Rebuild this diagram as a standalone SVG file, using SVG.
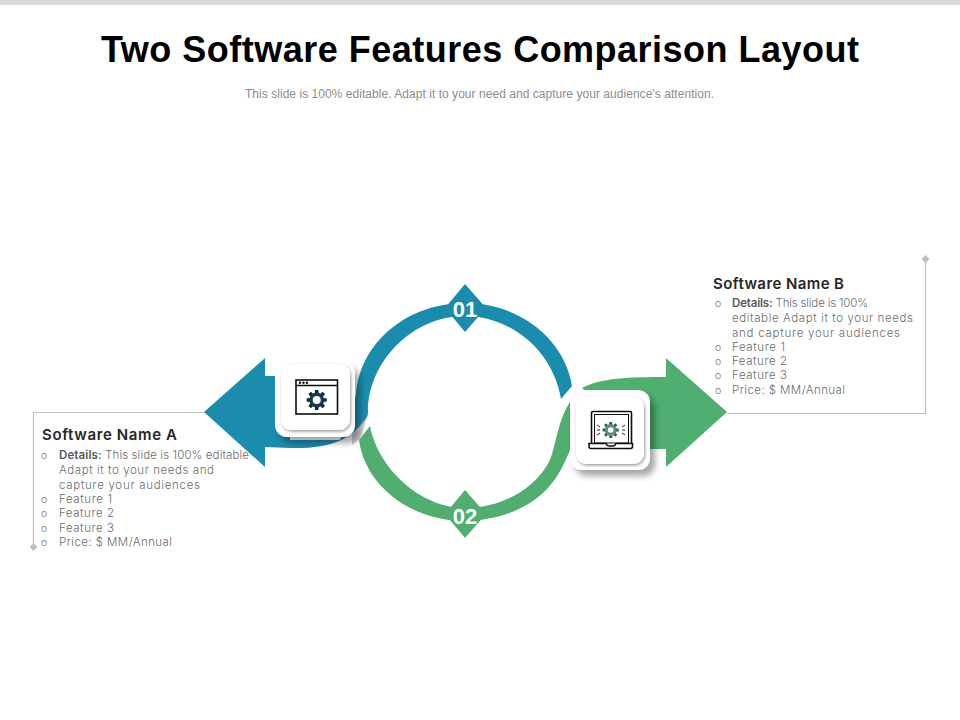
<svg xmlns="http://www.w3.org/2000/svg" width="960" height="720" viewBox="0 0 960 720">
<style>
.title{font:bold 36px "Liberation Sans",Arial,sans-serif;fill:#000}
.sub{font:12px "Liberation Sans",Arial,sans-serif;fill:#8c8c8c}
.h{font:600 15px Inter,"Liberation Sans",sans-serif;fill:#262626}
.t{font:300 11.5px Inter,"Liberation Sans",sans-serif;fill:#6b6b6b}
.dt{font-weight:600;fill:#595959}
.b{font:300 10.5px Inter,"Liberation Sans",sans-serif;fill:#7a7a7a}
.num{font:bold 22px "Liberation Sans",Arial,sans-serif;fill:#fff;text-anchor:middle}
.line{fill:none;stroke:#bfbfbf;stroke-width:1.2}
.tip{fill:#bfbfbf}
.blue{fill:#1a8cae}
.green{fill:#4fae70}
.ico{fill:none;stroke:#0d0d0d;stroke-width:1.6}
</style>
<defs>
<filter id="s1" x="-30%" y="-30%" width="170%" height="170%"><feDropShadow dx="5" dy="6" stdDeviation="3" flood-color="#000" flood-opacity=".35"/></filter>
<filter id="s2" x="-30%" y="-30%" width="160%" height="160%"><feDropShadow dx="1" dy="1.500" stdDeviation="1.500" flood-color="#000" flood-opacity=".4"/></filter>
<path id="teeth" d="M0-10V10M-10 0H10M-7.100-7.100L7.100 7.100M-7.100 7.100L7.100-7.100" fill="none" stroke-width="3.600"/>
</defs>
<rect width="960" height="5" fill="#d9d9d9"/>
<text class="title" x="101" y="62" textLength="758">Two Software Features Comparison Layout</text>
<text class="sub" x="245" y="98" textLength="469">This slide is 100% editable. Adapt it to your need and capture your audience’s attention.</text>

<g id="connectors">
<path class="line" d="M204 412.500H33.500V547"/>
<path class="tip" d="M33.500 543l4 4-4 4-4-4z"/>
<path class="line" d="M727 413.500H925.500V259"/>
<path class="tip" d="M925.500 255l4 4-4 4-4-4z"/>
</g>

<g id="node-a">
<path class="blue" d="M204 412L265 358V376H290V440H340L356 395C360 340 410 303 465 303C520 303 565 340 572 386L561 399C553 350 510 316 465 316C412 316 368 362 368 412Q368 416 367 417C352 440 330 449 290 448L265 447V467Z"/>
<path d="M352 434L367 417L360 439L352 445Z" fill="#a9a9a9" opacity=".6"/>
<path class="blue" d="M465 284L486 308L465 332L445 308Z"/>
<text class="num" x="465" y="317">01</text>
<rect x="275" y="362" width="80" height="75" rx="12" fill="#fff" filter="url(#s1)"/>
<rect x="281" y="364" width="69" height="66" rx="11" fill="#fff" filter="url(#s2)"/>
<g id="icon-a">
<rect class="ico" x="296" y="380" width="41.500" height="34"/>
<path class="ico" d="M296 385.500H337.500"/>
<circle cx="300" cy="382.700" r="1.200" fill="#0d0d0d"/><circle cx="303.500" cy="382.700" r="1.200" fill="#0d0d0d"/><circle cx="307" cy="382.700" r="1.200" fill="#0d0d0d"/>
<use href="#teeth" x="316.700" y="400" stroke="#0f2a35"/>
<circle cx="316.700" cy="400" r="7.500" fill="#15394a"/>
<circle cx="316.700" cy="400" r="4" fill="#fff"/>
</g>
<text class="h" x="42" y="440" textLength="135">Software Name A</text>
<g class="list">
<text class="b" x="41" y="459">o</text><text class="t" x="59" y="459" textLength="190"><tspan class="dt">Details:</tspan> This slide is 100% editable</text>
<text class="t" x="59" y="474" textLength="155">Adapt it to your needs and</text>
<text class="t" x="59" y="488.500" textLength="141">capture your audiences</text>
<text class="b" x="41" y="502.500">o</text><text class="t" x="59" y="502.500" textLength="53">Feature 1</text>
<text class="b" x="41" y="517">o</text><text class="t" x="59" y="517" textLength="55">Feature 2</text>
<text class="b" x="41" y="531.500">o</text><text class="t" x="59" y="531.500" textLength="55">Feature 3</text>
<text class="b" x="41" y="546">o</text><text class="t" x="59" y="546" textLength="113">Price: $ MM/Annual</text>
</g>
</g>

<g id="node-b">
<path class="green" d="M370 426C378 468 420 508 465 508C500 508 535 490 550 460C556 445 558 420 570 402L590 395L582 388C600 378 630 377 666 377V358L727 412L666 467V449H600L570 450C560 475 550 490 530 503C510 515 490 520 465 521C410 521 365 485 359 440Z"/>
<path class="green" d="M465 490L486 514L465 538L445 514Z"/>
<text class="num" x="465" y="523.500">02</text>
<rect x="570" y="390" width="80" height="80" rx="12" fill="#fff" filter="url(#s1)"/>
<rect x="576" y="397" width="68" height="67" rx="11" fill="#fff" filter="url(#s2)"/>
<g id="icon-b">
<path class="ico" d="M591.500 443V413q0-1.500 1.500-1.500H630q1.500 0 1.500 1.500V443"/>
<rect x="594.500" y="414.500" width="34" height="28.500" fill="none" stroke="#0d0d0d" stroke-width="1"/>
<path class="ico" d="M589 443.500H606q1 2.500 3 2.500h4q2 0 3-2.500H632.500v3q0 2-2 2H591q-2 0-2-2Z"/>
<use href="#teeth" transform="translate(610.700 430) scale(.8)" stroke="#2f5a46"/>
<circle cx="610.700" cy="430" r="6" fill="#5f8f73"/>
<circle cx="610.700" cy="430" r="2.800" fill="#fff"/>
<path d="M597 425l3 2M597 430h3M597 435l3-2M625 425l-3 2M625 430h-3M625 435l-3-2" fill="none" stroke="#222" stroke-width="1"/>
</g>
<text class="h" x="713" y="289" textLength="131">Software Name B</text>
<g class="list">
<text class="b" x="715" y="307">o</text><text class="t" x="732" y="307" textLength="136"><tspan class="dt">Details:</tspan> This slide is 100%</text>
<text class="t" x="732" y="322" textLength="181">editable Adapt it to your needs</text>
<text class="t" x="732" y="336.500" textLength="168">and capture your audiences</text>
<text class="b" x="715" y="350.500">o</text><text class="t" x="732" y="350.500" textLength="53">Feature 1</text>
<text class="b" x="715" y="364.500">o</text><text class="t" x="732" y="364.500" textLength="55">Feature 2</text>
<text class="b" x="715" y="379">o</text><text class="t" x="732" y="379" textLength="55">Feature 3</text>
<text class="b" x="715" y="393.500">o</text><text class="t" x="732" y="393.500" textLength="113">Price: $ MM/Annual</text>
</g>
</g>
</svg>
